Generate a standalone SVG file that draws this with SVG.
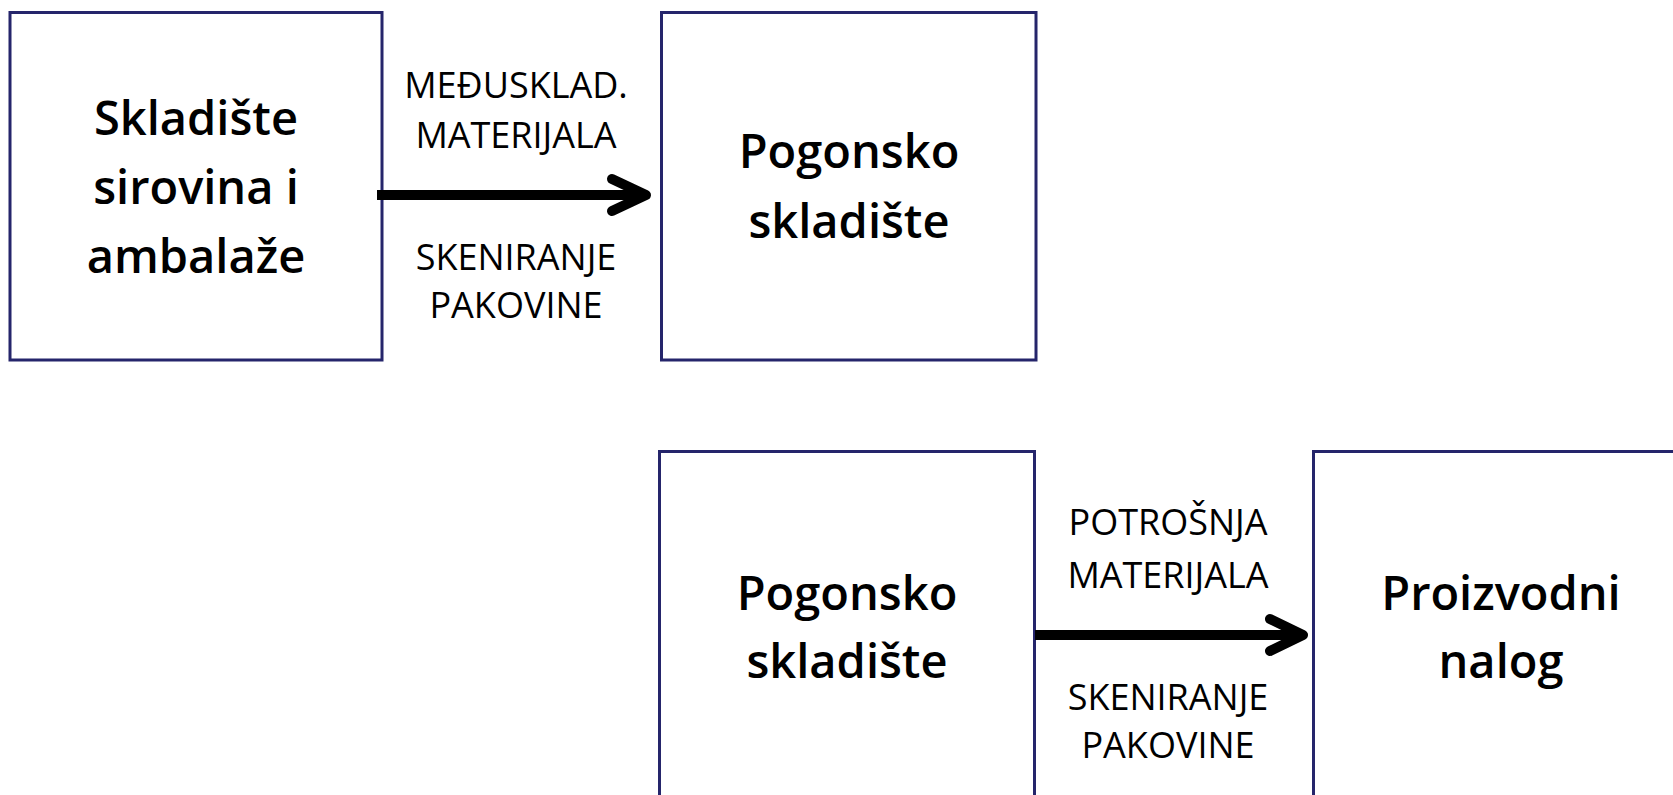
<svg xmlns="http://www.w3.org/2000/svg" width="1673" height="795" viewBox="0 0 1673 795">
<style>
.box{fill:#fff;stroke:#25256b;stroke-width:3}
.t{font-family:"Open Sans","Noto Sans",sans-serif;font-weight:600;font-size:47px;fill:#000;text-anchor:middle}
.l{font-family:"Open Sans","Noto Sans",sans-serif;font-size:36px;fill:#000;text-anchor:middle}
.shaft{stroke:#000;stroke-width:10;fill:none}
.head{stroke:#000;stroke-width:10;fill:none;stroke-linecap:round;stroke-linejoin:round}
</style>
<rect width="1673" height="795" fill="#fff"/>
<g id="node-skladiste-sirovina">
<rect class="box" x="10" y="12.5" width="372" height="347.5"/>
<text class="t" x="196" y="135">Skladište</text>
<text class="t" x="196" y="204">sirovina i</text>
<text class="t" x="196" y="273">ambalaže</text>
</g>
<g id="node-pogonsko-1">
<rect class="box" x="661.5" y="12.5" width="374.5" height="347.5"/>
<text class="t" x="849" y="168">Pogonsko</text>
<text class="t" x="849" y="238">skladište</text>
</g>
<g id="node-pogonsko-2">
<rect class="box" x="659.5" y="451.5" width="375" height="347.5"/>
<text class="t" x="847" y="610">Pogonsko</text>
<text class="t" x="847" y="678">skladište</text>
</g>
<g id="node-proizvodni-nalog">
<rect class="box" x="1313.5" y="451.5" width="375" height="347.5"/>
<text class="t" x="1501" y="610">Proizvodni</text>
<text class="t" x="1501" y="678">nalog</text>
</g>
<g id="connectors">
<line class="shaft" x1="377" y1="195" x2="644" y2="195"/>
<path class="head" d="M612 179 L646 195 L612 211"/>
<text class="l" x="516" y="98">MEĐUSKLAD.</text>
<text class="l" x="516" y="148">MATERIJALA</text>
<text class="l" x="516" y="270">SKENIRANJE</text>
<text class="l" x="516" y="318">PAKOVINE</text>
<line class="shaft" x1="1035" y1="635" x2="1301" y2="635"/>
<path class="head" d="M1270 619 L1303 635 L1270 651"/>
<text class="l" x="1168" y="535">POTROŠNJA</text>
<text class="l" x="1168" y="588">MATERIJALA</text>
<text class="l" x="1168" y="710">SKENIRANJE</text>
<text class="l" x="1168" y="758">PAKOVINE</text>
</g>
</svg>
